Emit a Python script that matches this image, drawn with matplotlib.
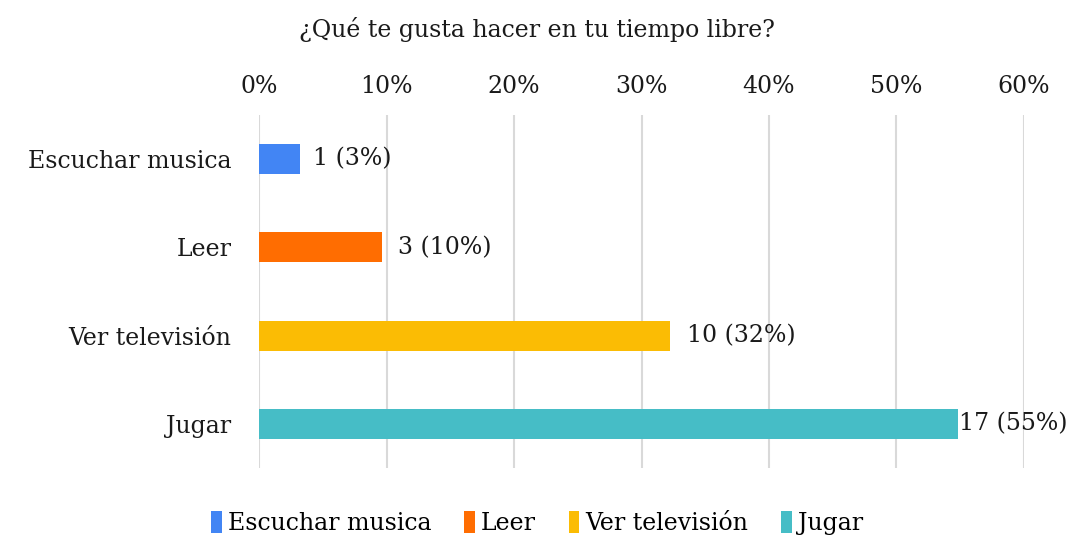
import matplotlib.pyplot as plt
from matplotlib.ticker import PercentFormatter

categories = ["Escuchar musica", "Leer", "Ver televisión", "Jugar"]
counts = [1, 3, 10, 17]
total = 31
colors = ["#4285F4", "#FF6D01", "#FBBC04", "#46BDC6"]

percents = [c / total * 100 for c in counts]
labels = [f"{c} ({round(p)}%)" for c, p in zip(counts, percents)]
label_pad = [9, 11, 12, 0.5]

plt.rcParams["font.family"] = ["DejaVu Serif"]
fs = 17

fig = plt.figure(figsize=(10.74, 5.35), dpi=100)
ax = fig.add_axes([0.2412, 0.1252, 0.7122, 0.66])

ypos = list(range(len(categories)))
for y, p, col in zip(ypos, percents, colors):
    ax.barh(y, p, height=0.34, color=col, zorder=3, label=categories[y])

for y, p, lab, pad in zip(ypos, percents, labels, label_pad):
    ax.annotate(lab, (p, y), xytext=(pad, 0), textcoords="offset points",
                va="center", ha="left", fontsize=fs, color="#1a1a1a",
                annotation_clip=False, zorder=4)

ax.set_xlim(0, 60)
ax.set_ylim(3.5, -0.5)
ax.set_xticks([0, 10, 20, 30, 40, 50, 60])
ax.xaxis.set_major_formatter(PercentFormatter(decimals=0))
ax.xaxis.tick_top()
ax.set_yticks(ypos)
ax.set_yticklabels(categories)
ax.tick_params(axis="both", length=0, labelsize=fs, colors="#1a1a1a")
ax.tick_params(axis="x", pad=12)
ax.tick_params(axis="y", pad=20)
ax.grid(axis="x", color="#d9d9d9", linewidth=1.5, zorder=0)
for s in ax.spines.values():
    s.set_visible(False)

fig.text(0.5, 0.945, "¿Qué te gusta hacer en tu tiempo libre?",
         ha="center", va="center", fontsize=fs, color="#1a1a1a")

fig.legend(loc="center", bbox_to_anchor=(0.5, 0.022), ncol=4, frameon=False,
           fontsize=fs, handlelength=0.45, handleheight=1.0, handletextpad=0.25,
           columnspacing=1.4)

fig.savefig("out.png", dpi=100)
